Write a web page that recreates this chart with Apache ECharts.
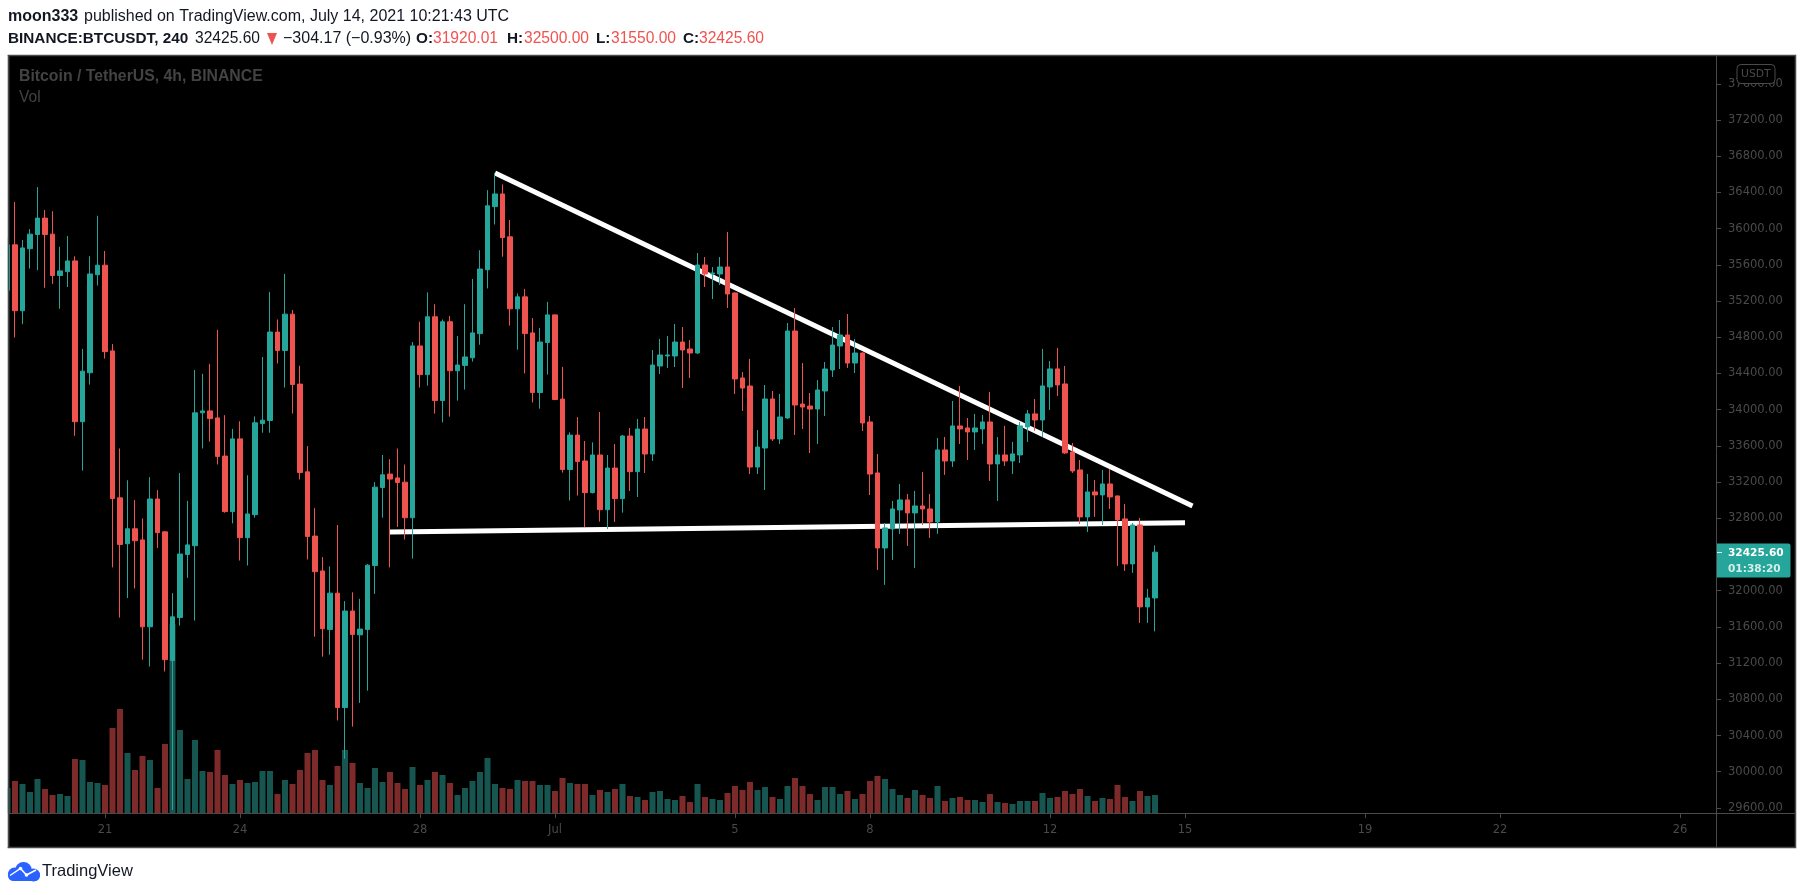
<!DOCTYPE html>
<html>
<head>
<meta charset="utf-8">
<style>html,body{margin:0;padding:0;background:#fff;overflow:hidden}#c{width:1805px;height:895px}</style>
<script src="https://cdn.jsdelivr.net/npm/echarts@6/dist/echarts.min.js"></script>
</head>
<body>
<div id="c"></div>
<script>
const opens = [35317,35821,35093,35778,35935,36116,35939,35482,35525,35643,
33867,34408,35491,35596,34649,33026,32519,32684,32561,31601,
33013,32650,31229,31703,32400,32497,33965,33986,33909,33487,
32874,33677,32586,32840,33846,33880,34857,34654,35055,34282,
33313,32603,32218,31572,31973,30709,31775,31512,31572,32278,
33140,33288,33246,33199,32806,34704,34387,35026,34100,34971,
34430,34489,34573,34840,35546,36243,36383,35909,35114,35246,
34848,34189,34742,35047,34117,33339,33719,33433,33083,33499,
32895,33355,33017,33709,33315,33786,33510,34482,34593,34593,
34747,34670,34626,35598,35499,35499,35576,35289,34350,34261,
33366,33576,34118,33676,33908,34869,34062,34040,34007,34206,
34438,34703,34825,34515,34626,33864,33301,32472,32682,32892,
33003,32859,32936,32903,32760,33555,33433,33820,33798,33754,
33787,33864,33400,33500,33433,33500,33809,33953,33886,34251,
34450,34284,33533,33334,32815,33091,33058,33179,33047,32793,
32296,32726,31821,31920.01];
const closes = [35821,35093,35787,35939,36116,35935,35482,35533,35643,33867,
34425,35499,35596,34641,33018,32510,32684,32552,31601,33013,
32641,31238,31711,32405,32506,33965,33986,33901,33483,32874,
33677,32586,32848,33855,33884,34857,34654,35055,34277,33305,
32599,32210,31580,31973,30709,31775,31517,31576,32282,33144,
33280,33233,33195,32806,34704,34387,35026,34100,34971,34430,
34493,34582,34848,35554,36252,36383,35901,35114,35246,34840,
34189,34747,35047,34112,33339,33719,33428,33083,33499,32895,
33355,33017,33709,33315,33786,33510,34493,34604,34604,34747,
34659,34626,35598,35499,35510,35576,35278,34339,34239,33366,
33587,34118,33676,33919,34869,34051,34029,34007,34217,34449,
34714,34825,34515,34626,33853,33289,32472,32693,32903,33003,
32859,32936,32903,32760,33555,33433,33820,33787,33754,33798,
33864,33400,33500,33433,33511,33820,33953,33886,34262,34450,
34273,33522,33323,32815,33091,33058,33179,33036,32782,32296,
32726,31821,31920,32425.60];
const lows = [35317,34797,34945,35558,35541,35347,35389,35114,35355,33711,
33326,34277,35372,34565,32257,31703,31918,32024,31238,31162,
32472,31107,29578,31614,32142,31669,33571,33647,33394,32861,
32743,32333,32278,32806,33745,33745,34510,34244,33956,33229,
32345,31491,31271,31293,30566,30143,30498,30760,30895,31965,
32806,32257,32705,32565,32354,34244,34265,33956,33859,33922,
34100,34222,34531,34717,35339,36045,35689,34928,34662,34400,
34079,34011,34387,34105,33305,32996,33051,32704,33075,32763,
32682,32759,32862,33101,33035,33300,33433,34394,34460,34471,
34239,34350,34615,35355,35222,35377,35123,34173,33985,33289,
33289,33112,33654,33621,33897,33720,33786,33521,33621,33930,
34361,34449,34460,34405,33764,33057,32229,32064,32340,32627,
32494,32251,32726,32583,32627,33279,33367,33621,33444,33555,
33621,33212,32991,33378,33290,33411,33643,33765,33698,33997,
34151,33511,33301,32737,32649,32815,32726,32903,32273,32218,
32196,31644,31644,31550];
const highs = [35900,36294,35875,35994,36459,36205,36193,35799,35918,35694,
34671,35694,36142,35753,34725,33571,33220,33001,32798,33254,
33111,32658,31973,33301,32992,34438,34396,34506,34882,33939,
33787,33872,33275,33926,34582,35301,34996,35499,35102,34485,
33597,32912,32371,32269,32726,31885,31982,31910,32295,33199,
33499,33453,33571,33394,34747,34971,35296,35165,34996,35034,
34814,35165,35444,35761,36425,36615,36488,36095,35284,35334,
35013,34903,35191,35051,34472,33749,33918,33654,33639,33974,
33499,33621,33720,33797,33897,33919,34659,34781,34814,34946,
34913,34769,35731,35686,35576,35686,35963,35295,34416,34560,
33775,34272,34206,34173,34957,35123,34515,34184,34328,34526,
34913,34990,35057,34781,34632,33930,33511,32748,32991,33179,
33069,33102,33312,33069,33687,33698,34096,34262,33908,33953,
33942,34196,33698,33820,33643,33864,33997,34118,34671,34538,
34682,34483,33632,33444,33290,33223,33334,33345,33050,32958,
32748,32804,32020,32500];
const volumes = [25,32,29,21,34,24,18,19,17,54,
53,31,30,28,85,104,60,43,57,53,
25,69,189,83,34,73,42,41,63,38,
29,33,30,31,42,42,19,33,29,43,
60,63,33,28,47,63,50,30,25,45,
31,41,30,24,46,28,33,41,38,30,
18,25,32,41,55,29,25,24,33,32,
32,28,28,22,35,30,29,29,18,23,
21,24,29,17,16,13,21,22,14,13,
17,11,29,16,14,13,20,27,23,31,
23,26,16,14,27,35,27,19,13,26,
26,19,22,14,19,32,37,34,24,18,
15,23,18,15,27,12,15,16,13,13,
11,19,11,10,9,12,12,12,20,15,
16,22,19,24,17,12,15,14,28,16,
12,22,17,18];
// 4h bars from 18 Jun 2021 20:00 UTC, continuing past the last candle up to the right edge of the pane
const barCount = 228;
const firstBarMs = Date.UTC(2021, 5, 18, 20);
const categories = [];
for (let i = 0; i < barCount; i++) categories.push(new Date(firstBarMs + i * 4 * 3600e3).toISOString().slice(0, 16));
const xTickLabels = {'2021-06-21T00:00':'21','2021-06-24T00:00':'24','2021-06-28T00:00':'28','2021-07-01T00:00':'Jul','2021-07-05T00:00':'5','2021-07-08T00:00':'8','2021-07-12T00:00':'12','2021-07-15T00:00':'15','2021-07-19T00:00':'19','2021-07-22T00:00':'22','2021-07-26T00:00':'26'};
const yTicks = [29600,30000,30400,30800,31200,31600,32000,32400,32800,33200,33600,34000,34400,34800,35200,35600,36000,36400,36800,37200,37600];
const upperTrend = [[categories[65], 36615], [categories[158], 32936]];
const lowerTrend = [[categories[51], 32649], [categories[157], 32751]];
const lastPrice = '32425.60', countdown = '01:38:20';

const UP = '#26a69a', DOWN = '#ef5350', VOL_UP = '#175650', VOL_DOWN = '#7c2a2a', AXIS = '#4a4a4a', MUTED = '#4a4a4a', INK = '#131722';
const F = '"Liberation Sans"';
const t = (x, y, text, font, fill, z) => ({type:'text', z:z||60, style:{x, y, text, font, fill, verticalAlign:'middle'}, silent:true});
const hdr = 'normal 15.6px ' + F, hdrB = 'bold 15.3px ' + F;
const graphicEls = [
  {type:'rect', z:-10, shape:{x:8.5,y:55.5,width:1787,height:792}, style:{fill:'#000',stroke:AXIS,lineWidth:1.5}, silent:true},
  {type:'rect', z:50, shape:{x:0,y:56,width:7.8,height:791}, style:{fill:'#fff'}, silent:true},
  {type:'line', z:51, shape:{x1:8.5,y1:55,x2:8.5,y2:848}, style:{stroke:AXIS,lineWidth:1.5}, silent:true},
  {type:'line', z:51, shape:{x1:8,y1:813.5,x2:1796,y2:813.5}, style:{stroke:AXIS,lineWidth:1}, silent:true},
  {type:'line', z:51, shape:{x1:1716.5,y1:55,x2:1716.5,y2:848}, style:{stroke:AXIS,lineWidth:1}, silent:true},
  t(8,17,'moon333','bold 16px '+F,INK),
  t(84,17,'published on TradingView.com, July 14, 2021 10:21:43 UTC','normal 16px '+F,INK),
  t(8,38.5,'BINANCE:BTCUSDT, 240',hdrB,INK),
  t(195,38.5,lastPrice,hdr,INK),
  {type:'polygon', z:60, shape:{points:[[267,33],[277,33],[272,45]]}, style:{fill:DOWN}, silent:true},
  t(283,38.5,'\u2212304.17 (\u22120.93%)','normal 16px '+F,INK),
  t(416,38.5,'O:',hdrB,INK), t(433,38.5,'31920.01',hdr,DOWN),
  t(507,38.5,'H:',hdrB,INK), t(524,38.5,'32500.00',hdr,DOWN),
  t(596,38.5,'L:',hdrB,INK), t(611,38.5,'31550.00',hdr,DOWN),
  t(683,38.5,'C:',hdrB,INK), t(699,38.5,lastPrice,hdr,DOWN),
  t(19,76.5,'Bitcoin / TetherUS, 4h, BINANCE','bold 15.8px '+F,'#434343'),
  t(19,98,'Vol','normal 15.6px '+F,'#434343'),
  {type:'rect', z:60, shape:{x:1737,y:64.5,width:38,height:19,r:4}, style:{fill:'#000',stroke:AXIS,lineWidth:1}, silent:true},
  t(1741,74.5,'USDT','normal 10.8px "DejaVu Sans"',MUTED,61),
  {type:'rect', z:60, shape:{x:1717,y:543.5,width:73.5,height:34,r:[0,2,2,0]}, style:{fill:UP}, silent:true},
  {type:'line', z:61, shape:{x1:1717,y1:552.5,x2:1722,y2:552.5}, style:{stroke:'#d8f0ee',lineWidth:1}, silent:true},
  t(1728,553.5,lastPrice,'bold 10.6px "DejaVu Sans"','#fff',61),
  t(1728,569.5,countdown,'bold 10.6px "DejaVu Sans"','#d4eeeb',61),
  {type:'rect', z:60, shape:{x:8,y:870,width:32,height:11,r:5.5}, style:{fill:'#2962ff'}, silent:true},
  {type:'circle', z:60, shape:{cx:14.5,cy:874,r:6.5}, style:{fill:'#2962ff'}, silent:true},
  {type:'circle', z:60, shape:{cx:23.5,cy:870.5,r:8.5}, style:{fill:'#2962ff'}, silent:true},
  {type:'circle', z:60, shape:{cx:33.5,cy:875,r:6.5}, style:{fill:'#2962ff'}, silent:true},
  {type:'polyline', z:61, shape:{points:[[10,875.5],[20.5,868.5],[26.5,875],[36,870]]}, style:{stroke:'#fff',lineWidth:1.5,fill:null}, silent:true},
  {type:'circle', z:61, shape:{cx:20.5,cy:868.5,r:1.8}, style:{fill:'#fff'}, silent:true},
  {type:'circle', z:61, shape:{cx:26.5,cy:875,r:1.8}, style:{fill:'#fff'}, silent:true},
  t(42,871.5,'TradingView','normal 16.5px '+F,INK)
];

const chart = echarts.init(document.getElementById('c'), null, {renderer:'canvas', width:1805, height:895});
chart.setOption({
  animation:false,
  backgroundColor:'#fff',
  graphic:{elements:graphicEls},
  grid:{left:3.75, top:55, width:1710, height:758, containLabel:false},
  xAxis:{
    type:'category', data:categories, boundaryGap:true,
    axisLine:{show:false},
    axisTick:{show:true, alignWithLabel:true, length:5, lineStyle:{color:AXIS}, interval:(i,v)=>v in xTickLabels},
    axisLabel:{show:true, interval:(i,v)=>v in xTickLabels, formatter:v=>xTickLabels[v]||'', color:MUTED, fontFamily:'DejaVu Sans', fontSize:11.5, margin:11},
    splitLine:{show:false}
  },
  yAxis:[
    {type:'value', position:'right', offset:2.25, min:29544, max:37918, scale:true,
     axisLine:{show:false},
     axisTick:{show:true, length:5, lineStyle:{color:AXIS}, customValues:yTicks},
     axisLabel:{show:true, customValues:yTicks, formatter:v=>v.toFixed(2), color:MUTED, fontFamily:'DejaVu Sans', fontSize:11.5, margin:12, padding:[2,0,0,0]},
     splitLine:{show:false}},
    {type:'value', position:'left', min:0, max:758, show:false, splitLine:{show:false}}
  ],
  series:[
    {name:'Volume', type:'bar', yAxisIndex:1, z:1, barWidth:6, silent:true,
     data:volumes.map((v,i)=>({value:v, itemStyle:{color: closes[i] >= opens[i] ? VOL_UP : VOL_DOWN}}))},
    {name:'Upper trend', type:'line', z:2, data:upperTrend, showSymbol:false, symbol:'none', silent:true, lineStyle:{color:'#fff', width:5, cap:'butt'}},
    {name:'Lower trend', type:'line', z:2, data:lowerTrend, showSymbol:false, symbol:'none', silent:true, lineStyle:{color:'#fff', width:5, cap:'butt'}},
    {name:'BTCUSDT', type:'candlestick', z:3, barWidth:5, silent:true,
     itemStyle:{color:UP, color0:DOWN, borderColor:UP, borderColor0:DOWN, borderWidth:1},
     data:opens.map((o,i)=>[o, closes[i], lows[i], highs[i]])}
  ]
});
</script>
</body>
</html>
